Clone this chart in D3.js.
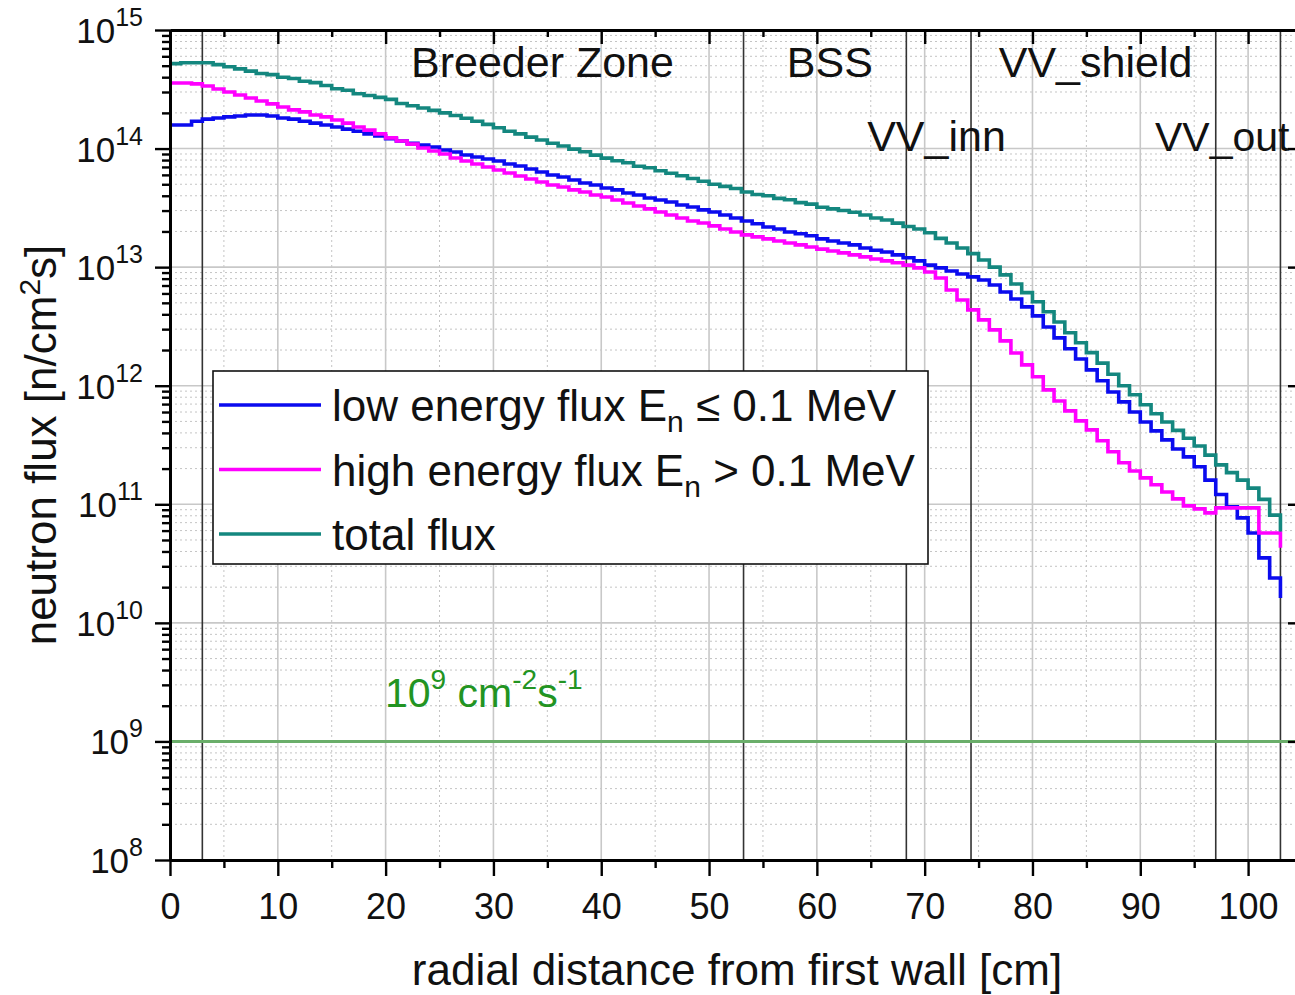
<!DOCTYPE html>
<html>
<head>
  <meta charset="utf-8">
  <title>neutron flux</title>
  <script src="https://d3js.org/d3.v7.min.js"></script>
  <style>
    body { margin: 0; background: #fff; }
    svg { font-family: "Liberation Sans", Arial, sans-serif; }
    text { white-space: pre; }
  </style>
</head>
<body>
<svg id="chart"></svg>
<script>

  var width = 1295;
  var height = 995;

  // radial position of each 1 cm bin [cm]
  const distance = [0,1,2,3,4,5,6,7,8,9,10,11,12,13,14,15,16,17,18,19,20,21,22,23,24,25,26,27,28,29,
    30,31,32,33,34,35,36,37,38,39,40,41,42,43,44,45,46,47,48,49,50,51,52,53,54,55,56,57,58,59,
    60,61,62,63,64,65,66,67,68,69,70,71,72,73,74,75,76,77,78,79,80,81,82,83,84,85,86,87,88,89,
    90,91,92,93,94,95,96,97,98,99,100,101,102,103];

  // low energy flux En <= 0.1 MeV [n/cm2s]
  const lowFlux = [1.58e14,1.58e14,1.70e14,1.77e14,1.81e14,1.85e14,1.88e14,1.92e14,1.92e14,1.88e14,
    1.81e14,1.77e14,1.70e14,1.64e14,1.58e14,1.52e14,1.46e14,1.40e14,1.33e14,1.28e14,
    1.21e14,1.16e14,1.11e14,1.07e14,1.03e14,9.73e13,9.36e13,8.83e13,8.50e13,8.17e13,
    7.86e13,7.41e13,7.13e13,6.73e13,6.35e13,5.99e13,5.76e13,5.43e13,5.13e13,4.93e13,
    4.65e13,4.48e13,4.22e13,4.06e13,3.83e13,3.68e13,3.54e13,3.34e13,3.22e13,3.04e13,
    2.92e13,2.75e13,2.60e13,2.45e13,2.32e13,2.18e13,2.10e13,1.98e13,1.91e13,1.84e13,
    1.73e13,1.66e13,1.60e13,1.54e13,1.45e13,1.39e13,1.34e13,1.27e13,1.20e13,1.13e13,
    1.04e13,9.85e12,9.29e12,8.76e12,8.27e12,7.80e12,7.08e12,6.18e12,5.39e12,4.62e12,
    3.88e12,3.13e12,2.53e12,2.05e12,1.68e12,1.36e12,1.10e12,8.86e11,7.30e11,6.01e11,
    4.95e11,4.16e11,3.49e11,2.93e11,2.51e11,2.07e11,1.60e11,1.21e11,9.51e10,7.68e10,
    5.73e10,3.53e10,2.39e10,1.62e10];

  // high energy flux En > 0.1 MeV
  const highFlux = [3.57e14,3.57e14,3.51e14,3.37e14,3.18e14,3.00e14,2.83e14,2.67e14,2.52e14,2.38e14,
    2.24e14,2.12e14,2.04e14,1.92e14,1.85e14,1.74e14,1.64e14,1.52e14,1.43e14,1.33e14,
    1.23e14,1.16e14,1.09e14,1.01e14,9.54e13,9.00e13,8.33e13,7.86e13,7.41e13,6.99e13,
    6.60e13,6.23e13,5.87e13,5.54e13,5.23e13,4.93e13,4.74e13,4.48e13,4.30e13,4.06e13,
    3.91e13,3.68e13,3.48e13,3.28e13,3.10e13,2.92e13,2.75e13,2.60e13,2.45e13,2.36e13,
    2.23e13,2.10e13,1.98e13,1.87e13,1.80e13,1.73e13,1.66e13,1.60e13,1.54e13,1.48e13,
    1.42e13,1.37e13,1.32e13,1.27e13,1.22e13,1.17e13,1.13e13,1.09e13,1.04e13,9.85e12,
    9.11e12,8.11e12,6.42e12,5.29e12,4.36e12,3.59e12,2.96e12,2.39e12,1.89e12,1.50e12,
    1.19e12,9.22e11,7.44e11,6.13e11,5.05e11,4.24e11,3.43e11,2.77e11,2.24e11,1.91e11,
    1.67e11,1.46e11,1.27e11,1.11e11,9.69e10,9.15e10,8.46e10,9.32e10,9.32e10,9.32e10,
    9.32e10,5.73e10,5.73e10,4.29e10];

  // total flux
  const totalFlux = [5.2e14,5.3e14,5.3e14,5.3e14,5.1e14,4.9e14,4.7e14,4.5e14,4.3e14,4.2e14,
    4.0e14,3.9e14,3.7e14,3.6e14,3.4e14,3.2e14,3.1e14,2.9e14,2.8e14,2.7e14,
    2.6e14,2.4e14,2.3e14,2.2e14,2.1e14,2.0e14,1.9e14,1.8e14,1.7e14,1.6e14,
    1.5e14,1.4e14,1.33e14,1.25e14,1.18e14,1.11e14,1.05e14,9.9e13,9.4e13,8.8e13,
    8.3e13,7.9e13,7.6e13,7.1e13,6.9e13,6.5e13,6.2e13,5.9e13,5.6e13,5.3e13,
    5.0e13,4.8e13,4.6e13,4.3e13,4.1e13,4.0e13,3.8e13,3.7e13,3.5e13,3.4e13,
    3.2e13,3.1e13,3.0e13,2.9e13,2.75e13,2.6e13,2.5e13,2.35e13,2.2e13,2.1e13,
    1.95e13,1.75e13,1.6e13,1.45e13,1.3e13,1.15e13,1.0e13,8.6e12,7.2e12,6.1e12,
    5.1e12,4.2e12,3.45e12,2.8e12,2.3e12,1.9e12,1.55e12,1.25e12,1.0e12,8.4e11,
    6.9e11,5.8e11,4.95e11,4.2e11,3.6e11,3.1e11,2.6e11,2.15e11,1.85e11,1.6e11,
    1.37e11,1.1e11,8.1e10,5.9e10];

  // zone borders [cm] and zone names
  const boundaries = [3, 53.2, 68.3, 74.3, 97, 103];
  const zoneNames = ["Breeder Zone", "BSS", "VV_shield", "VV_inn", "VV_out"];
  const zoneCenter = [34.55, 61.2, 85.85, 71.1, 97.6];
  const zoneRow = [0, 0, 0, 1, 1];

  const xTicks = [0, 10, 20, 30, 40, 50, 60, 70, 80, 90, 100];
  const xMinor = [5, 15, 25, 35, 45, 55, 65, 75, 85, 95, 105];
  const yExponents = [8, 9, 10, 11, 12, 13, 14, 15];
  const limitFlux = 1e9;

  const seriesNames = ["low energy flux E", "high energy flux E", "total flux"];
  const seriesTail = [" \u2264 0.1 MeV", " > 0.1 MeV", ""];
  const seriesColors = ["#0b0bee", "#ff00ff", "#14877f"];

  var svg = d3.select("#chart")
    .attr("width", width)
    .attr("height", height);

  var x = d3.scaleLinear().domain([0, 105]).range([170, 1302]);
  var y = d3.scaleLog().domain([1e8, 1e15]).range([860, 30]);

  var yMajor = yExponents.map(e => Math.pow(10, e));
  var yMinor = [];
  yExponents.slice(0, -1).forEach(function(e) {
    for (var m = 2; m <= 9; m++) yMinor.push(m * Math.pow(10, e));
  });

  // clip
  svg.append("clipPath").attr("id", "plotclip")
    .append("rect").attr("x", 170).attr("y", 30).attr("width", 1132).attr("height", 830);

  var grid = svg.append("g");
  grid.selectAll(".vminor").data(xMinor).enter().append("line")
    .attr("x1", d => x(d)).attr("x2", d => x(d))
    .attr("y1", y(1e15)).attr("y2", y(1e8))
    .attr("stroke", "#c4c4c4").attr("stroke-width", 1).attr("stroke-dasharray", "2,3");
  grid.selectAll(".hminor").data(yMinor).enter().append("line")
    .attr("x1", x(0)).attr("x2", x(105))
    .attr("y1", d => y(d)).attr("y2", d => y(d))
    .attr("stroke", "#c4c4c4").attr("stroke-width", 1).attr("stroke-dasharray", "2,3");
  grid.selectAll(".vmajor").data(xTicks.slice(1)).enter().append("line")
    .attr("x1", d => x(d)).attr("x2", d => x(d))
    .attr("y1", y(1e15)).attr("y2", y(1e8))
    .attr("stroke", "#c8c8c8").attr("stroke-width", 1.6);
  grid.selectAll(".hmajor").data(yMajor.slice(1, -1)).enter().append("line")
    .attr("x1", x(0)).attr("x2", x(105))
    .attr("y1", d => y(d)).attr("y2", d => y(d))
    .attr("stroke", "#c8c8c8").attr("stroke-width", 1.6);

  // zone borders
  svg.append("g").selectAll("line").data(boundaries).enter().append("line")
    .attr("x1", d => x(d)).attr("x2", d => x(d))
    .attr("y1", y(1e15)).attr("y2", y(1e8))
    .attr("stroke", "#333").attr("stroke-width", 1.6);

  // zone names
  svg.append("g").selectAll("text").data(zoneNames).enter().append("text")
    .attr("x", (d, i) => x(zoneCenter[i]))
    .attr("y", (d, i) => zoneRow[i] == 0 ? 77 : 151)
    .attr("text-anchor", "middle")
    .attr("font-size", (d, i) => i == 4 ? 41 : 43)
    .attr("fill", "#111")
    .text(d => d);

  // 1e9 limit line
  svg.append("line")
    .attr("x1", x(0)).attr("x2", x(105))
    .attr("y1", y(limitFlux)).attr("y2", y(limitFlux))
    .attr("stroke", "#6aae6a").attr("stroke-width", 3);

  var lim = svg.append("text").attr("x", 385).attr("y", y(limitFlux) - 34)
    .attr("fill", "#229422").attr("font-size", 41);
  lim.append("tspan").text("10");
  lim.append("tspan").attr("font-size", 28).attr("dy", -18).text("9");
  lim.append("tspan").attr("dy", 18).text(" cm");
  lim.append("tspan").attr("font-size", 28).attr("dy", -18).text("-2");
  lim.append("tspan").attr("dy", 18).text("s");
  lim.append("tspan").attr("font-size", 28).attr("dy", -18).text("-1");

  // flux curves
  var line = d3.line()
    .x((d, i) => x(distance[i]))
    .y(d => y(d))
    .curve(d3.curveStepAfter);

  svg.append("g").attr("clip-path", "url(#plotclip)")
    .selectAll("path")
    .data([lowFlux, highFlux, totalFlux])
    .enter().append("path")
    .attr("d", line)
    .attr("fill", "none")
    .attr("stroke", (d, i) => seriesColors[i])
    .attr("stroke-width", 3.6)
    .attr("stroke-linejoin", "miter");

  // legend
  var leg = svg.append("g");
  leg.append("rect").attr("x", 213).attr("y", 371).attr("width", 715).attr("height", 193)
    .attr("fill", "#fff").attr("stroke", "#111").attr("stroke-width", 1.6);
  seriesNames.forEach(function(name, i) {
    var ly = 405 + i * 64.5;
    leg.append("line").attr("x1", 219).attr("x2", 321).attr("y1", ly).attr("y2", ly)
      .attr("stroke", seriesColors[i]).attr("stroke-width", 3.6);
    var t = leg.append("text").attr("x", 332).attr("y", ly + 16).attr("font-size", 44).attr("fill", "#111");
    t.append("tspan").text(name);
    if (seriesTail[i]) {
      t.append("tspan").attr("font-size", 30).attr("dy", 11).text("n");
      t.append("tspan").attr("dy", -11).text(seriesTail[i]);
    }
  });

  // axes
  function styleAxis(g) {
    g.select(".domain").attr("stroke", "#000").attr("stroke-width", 3);
    g.selectAll(".tick line").attr("stroke", "#000").attr("stroke-width", 2.4);
  }

  svg.append("g").attr("transform", "translate(0,860)")
    .call(d3.axisBottom(x).tickValues(xMinor.slice(0, -1)).tickSize(8).tickSizeOuter(0).tickFormat(""))
    .call(styleAxis);
  var bottom = svg.append("g").attr("transform", "translate(0,860)")
    .call(d3.axisBottom(x).tickValues(xTicks).tickSize(16).tickSizeOuter(0).tickPadding(17))
    .call(styleAxis);
  bottom.selectAll("text").attr("font-size", 36).attr("fill", "#111")
    .attr("font-family", "Liberation Sans, Arial, sans-serif");

  svg.append("g").attr("transform", "translate(0,30)")
    .call(d3.axisBottom(x).tickValues(xMinor).tickSize(7).tickSizeOuter(0).tickFormat(""))
    .call(styleAxis);
  svg.append("g").attr("transform", "translate(0,30)")
    .call(d3.axisBottom(x).tickValues(xTicks).tickSize(14).tickSizeOuter(0).tickFormat(""))
    .call(styleAxis);

  svg.append("g").attr("transform", "translate(170,0)")
    .call(d3.axisLeft(y).tickValues(yMinor).tickSize(8).tickSizeOuter(0).tickFormat(""))
    .call(styleAxis);
  svg.append("g").attr("transform", "translate(170,0)")
    .call(d3.axisLeft(y).tickValues(yMajor).tickSize(15).tickSizeOuter(0).tickFormat(""))
    .call(styleAxis);

  svg.append("g").attr("transform", "translate(1302,0)")
    .call(d3.axisLeft(y).tickValues(yMinor).tickSize(7).tickSizeOuter(0).tickFormat(""))
    .call(styleAxis);
  svg.append("g").attr("transform", "translate(1302,0)")
    .call(d3.axisLeft(y).tickValues(yMajor).tickSize(14).tickSizeOuter(0).tickFormat(""))
    .call(styleAxis);

  // y tick labels 10^n
  var ylab = svg.append("g").selectAll("text").data(yExponents).enter().append("text")
    .attr("x", 143)
    .attr("y", d => y(Math.pow(10, d)) + 13)
    .attr("text-anchor", "end")
    .attr("font-size", 35)
    .attr("fill", "#111");
  ylab.append("tspan").text("10");
  ylab.append("tspan").attr("font-size", 25).attr("dy", -17).text(d => d);

  // axis titles
  svg.append("text").attr("x", 737).attr("y", 985).attr("text-anchor", "middle")
    .attr("font-size", 44).attr("fill", "#111")
    .text("radial distance from first wall [cm]");

  var yt = svg.append("text").attr("transform", "translate(56,445) rotate(-90)")
    .attr("text-anchor", "middle").attr("font-size", 44).attr("fill", "#111");
  yt.append("tspan").text("neutron flux [n/cm");
  yt.append("tspan").attr("font-size", 30).attr("dy", -16).text("2");
  yt.append("tspan").attr("dy", 16).text("s]");

</script>
</body>
</html>
